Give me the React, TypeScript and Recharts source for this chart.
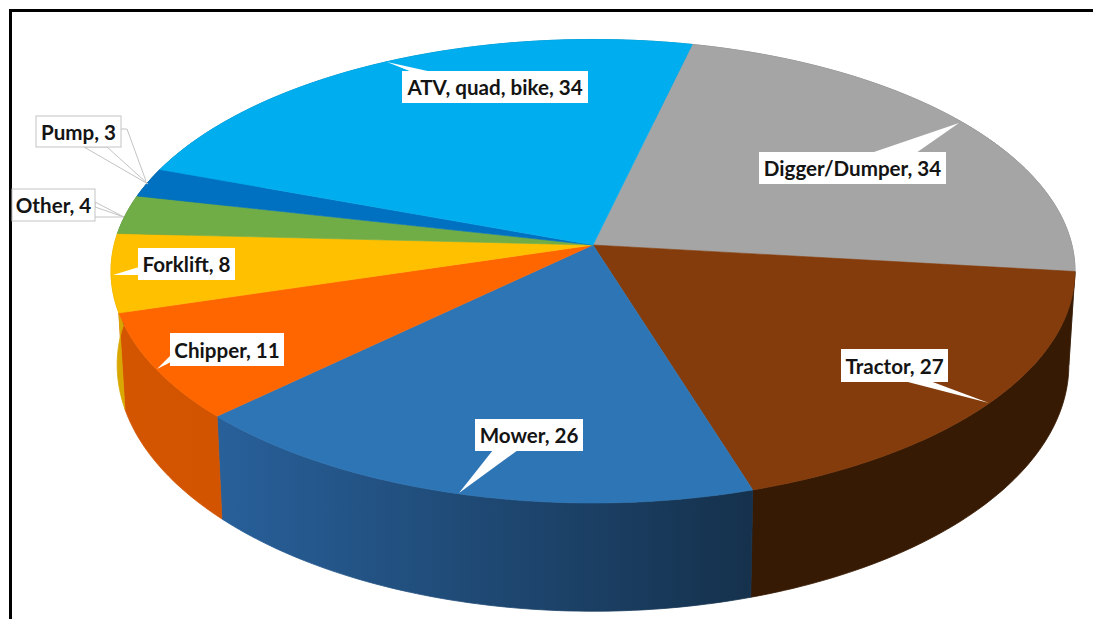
import React from 'react';
import { PieChart, Pie } from 'recharts';

// Incident counts by machine type, clockwise from the top of the disc.
const machines = ['Digger/Dumper', 'Tractor', 'Mower', 'Chipper', 'Forklift', 'Other', 'Pump', 'ATV, quad, bike'];
const counts = [34, 27, 26, 11, 8, 4, 3, 34];
const topColours = ['#A5A5A5', '#843C0C', '#2E75B6', '#FF6600', '#FFC000', '#70AD47', '#0070C0', '#00AEEF'];
const wallLeft = ['#7c7c7c', '#371A03', '#28609a', '#D45500', '#D9A800', '#54823a', '#005490', '#0083b4'];
const wallRight = ['#7c7c7c', '#371A03', '#15314c', '#D25400', '#D9A800', '#54823a', '#005490', '#0083b4'];

const rows = machines.map((name, i) => ({
  name,
  value: counts[i],
  fill: topColours[i],
  wallLeft: wallLeft[i],
  wallRight: wallRight[i],
}));

// Callout placement: box [x, y, w, h], wedge polygon, optional leader line, outlined or not.
type Callout = { box: number[]; wedge: number[][]; leader?: number[][]; outline?: boolean };
const callouts: Record<string, Callout> = {
  'Digger/Dumper': { box: [759, 152, 187, 32], wedge: [[871, 153], [959, 123], [916, 153]] },
  Tractor: { box: [841, 349, 107, 33], wedge: [[904, 381], [989, 403], [930, 381]] },
  Mower: { box: [475, 419, 108, 32], wedge: [[493, 450], [459, 493], [518, 450]] },
  Chipper: { box: [170, 333, 114, 33], wedge: [[171, 355], [157, 369], [171, 362]] },
  Forklift: { box: [138, 248, 97, 32], wedge: [[139, 267], [113, 275], [139, 275]] },
  Other: {
    box: [12, 189, 83, 32],
    wedge: [[95, 202], [124, 217], [95, 207]],
    leader: [[95, 217], [124, 217]],
    outline: true,
  },
  Pump: {
    box: [36, 116, 85, 31],
    wedge: [[84, 147], [148, 184], [107, 147]],
    leader: [[121, 129], [127, 129], [146, 181]],
    outline: true,
  },
  'ATV, quad, bike': { box: [402, 71, 186, 32], wedge: [[412, 72], [387, 62], [432, 72]] },
};

const WIDTH = 1093;
const HEIGHT = 619;
const CX = 593;
const CY = 245;
const RADIUS = 228.8;
const X_STRETCH = 2.093; // horizontal scale of the tilted disc
const PERSPECTIVE = 0.1132; // far edge shrinks, near edge grows
const DEPTH = 92; // wall height at the disc's centre line
const DEPTH_PERSPECTIVE = 0.15;
const CONVERGE = 0.0127; // walls lean toward a vanishing point below

const rad = (deg: number) => (deg * Math.PI) / 180;

// Projects a polar position on the disc to the tilted top face.
function topPoint(cx: number, cy: number, r: number, angle: number) {
  const u = Math.cos(rad(angle));
  const v = Math.sin(rad(angle));
  const d = 1 + PERSPECTIVE * v;
  return { x: cx + (r * X_STRETCH * u) / d, y: cy - (r * v) / d, v };
}

// The matching point on the lower rim, directly beneath a top-face point.
function basePoint(cx: number, cy: number, r: number, angle: number) {
  const p = topPoint(cx, cy, r, angle);
  return {
    x: p.x - (p.x - cx) * CONVERGE,
    y: p.y + DEPTH / (1 + DEPTH_PERSPECTIVE * p.v),
  };
}

function arcAngles(start: number, end: number) {
  const steps = Math.max(2, Math.ceil(Math.abs(end - start)));
  return Array.from({ length: steps + 1 }, (_, i) => start + ((end - start) * i) / steps);
}

function TopFace(props: any) {
  const { cx, cy, outerRadius, startAngle, endAngle, fill } = props;
  const rim = arcAngles(startAngle, endAngle).map((a) => topPoint(cx, cy, outerRadius, a));
  const d = `M${cx},${cy} ` + rim.map((p) => `L${p.x.toFixed(2)},${p.y.toFixed(2)}`).join(' ') + ' Z';
  return <path d={d} fill={fill} stroke={fill} strokeWidth={0.6} />;
}

function WallFace(props: any) {
  const { cx, cy, outerRadius, startAngle, endAngle, index, payload } = props;
  const angles = arcAngles(startAngle, endAngle);
  const upper = angles.map((a) => topPoint(cx, cy, outerRadius, a));
  const lower = angles.map((a) => basePoint(cx, cy, outerRadius, a)).reverse();
  const d = [...upper, ...lower].map((p, i) => `${i ? 'L' : 'M'}${p.x.toFixed(2)},${p.y.toFixed(2)}`).join(' ') + ' Z';
  const id = `wall-shade-${index}`;
  const row = payload?.payload ?? payload ?? props;
  return (
    <g>
      <defs>
        <linearGradient id={id} x1="0" y1="0" x2="1" y2="0">
          <stop offset="0" stopColor={row.wallLeft} />
          <stop offset="1" stopColor={row.wallRight} />
        </linearGradient>
      </defs>
      <path d={d} fill={`url(#${id})`} stroke={`url(#${id})`} strokeWidth={0.8} />
    </g>
  );
}

function CalloutLabel(props: any) {
  const { name, value } = props;
  const spec = callouts[name];
  if (!spec) return null;
  const [x, y, w, h] = spec.box;
  const stroke = spec.outline ? '#c4c4c4' : 'none';
  const points = spec.wedge.map((p) => p.join(',')).join(' ');
  return (
    <g>
      <polygon points={points} fill="#ffffff" stroke={stroke} strokeWidth={1} />
      {spec.leader && (
        <polyline points={spec.leader.map((p) => p.join(',')).join(' ')} fill="none" stroke={stroke} strokeWidth={1} />
      )}
      <rect x={x} y={y} width={w} height={h} fill="#ffffff" stroke={stroke} strokeWidth={1} />
      <text
        x={x + w / 2}
        y={y + h / 2 + 8}
        textAnchor="middle"
        fontFamily="Lato, 'Open Sans', sans-serif"
        fontWeight={700}
        fontSize={20.6}
        fill="#141414"
      >
        {`${name}, ${value}`}
      </text>
    </g>
  );
}

export default function App() {
  const shared = {
    data: rows,
    dataKey: 'value',
    nameKey: 'name',
    cx: CX,
    cy: CY,
    outerRadius: RADIUS,
    startAngle: 76.7,
    endAngle: -283.3,
    stroke: 'none',
    isAnimationActive: false,
  };
  return (
    <div style={{ position: 'fixed', left: 0, top: 0, width: WIDTH, height: HEIGHT, overflow: 'hidden', background: '#fff' }}>
      <div
        style={{
          position: 'absolute',
          left: 9,
          top: 9,
          width: WIDTH + 20,
          height: HEIGHT + 20,
          border: '3px solid #000',
        }}
      />
      <div style={{ position: 'absolute', left: 0, top: 0 }}>
        <PieChart width={WIDTH} height={HEIGHT} margin={{ top: 0, right: 0, bottom: 0, left: 0 }}>
          <Pie {...shared} shape={WallFace} label={false} labelLine={false} />
          <Pie {...shared} shape={TopFace} label={CalloutLabel} labelLine={false} />
        </PieChart>
      </div>
    </div>
  );
}
